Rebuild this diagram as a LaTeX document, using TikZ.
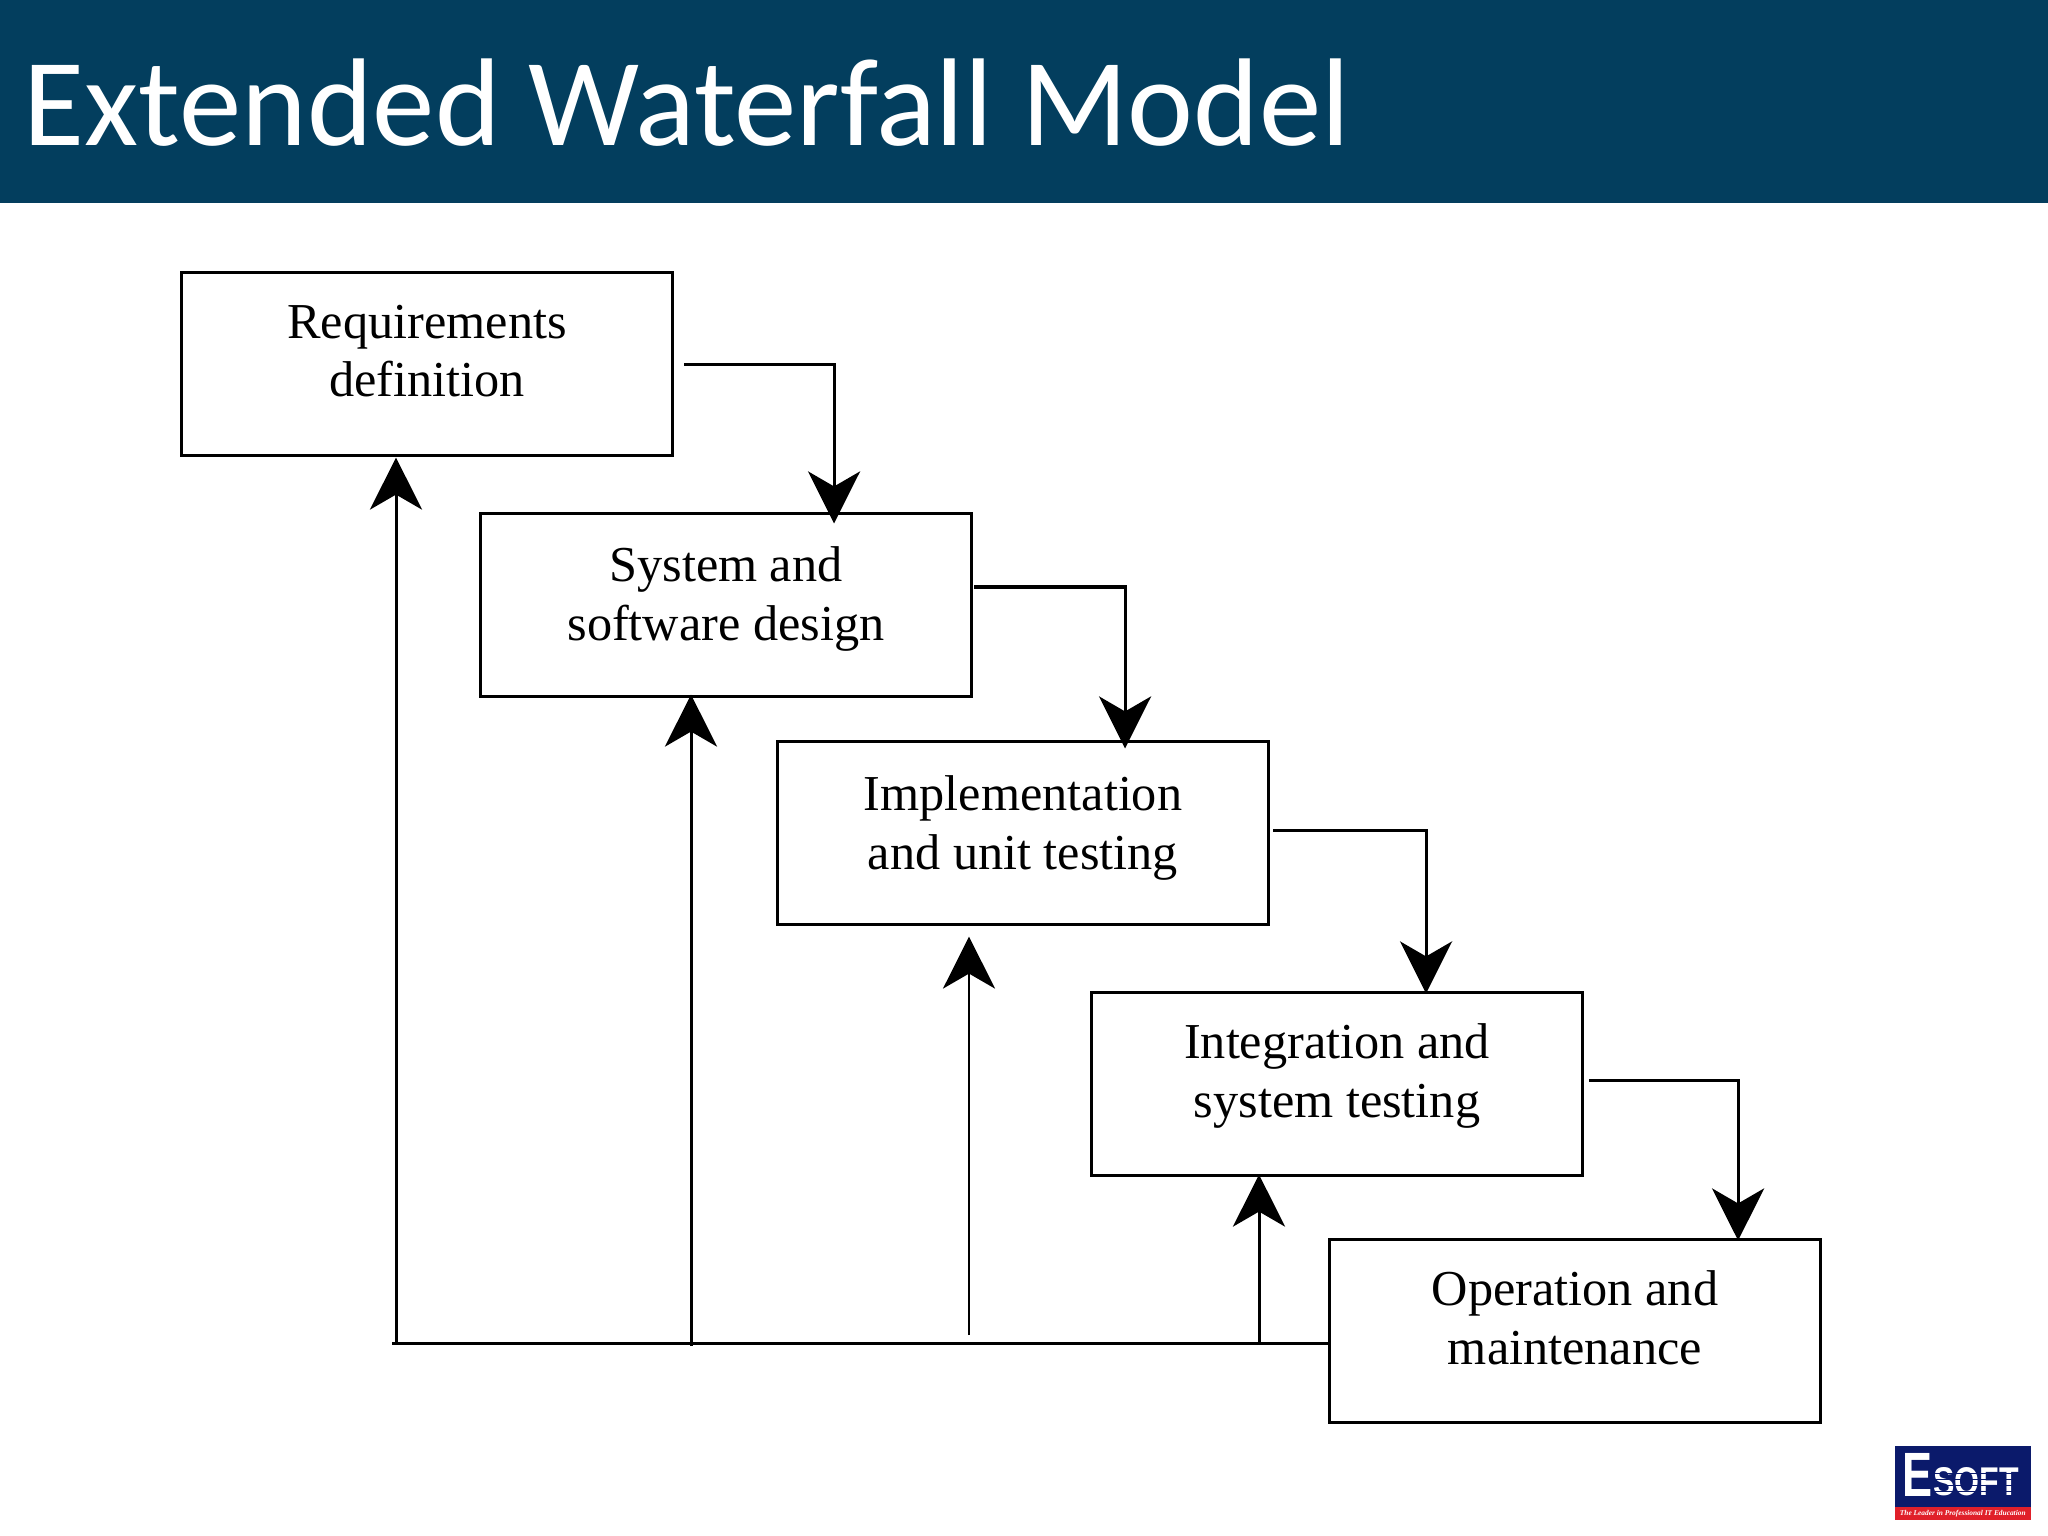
\documentclass[tikz,border=0pt]{standalone}
\usepackage{fontspec}
\setmainfont{Carlito}
\newfontfamily\boxfont{Liberation Serif}
\newfontfamily\logofont{Liberation Sans}
\usetikzlibrary{arrows.meta}

\begin{document}
\begin{tikzpicture}[
  x=0.01cm, y=-0.01cm,
  box/.style={rectangle, draw=black, line width=0.03cm, fill=white, inner sep=0pt, minimum width=4.91cm, minimum height=1.82cm},
  boxtext/.style={align=center, inner sep=0pt, font=\boxfont\fontsize{14.3}{16.7}\selectfont},
  arrow/.style={-{Stealth[length=5.2mm, width=5.2mm, inset=1.5mm]}, line width=0.03cm},
  thinarrow/.style={arrow, line width=0.022cm},
  line/.style={line width=0.03cm},
  header/.style={rectangle, fill=headerblue, inner sep=0pt, minimum width=20.6cm, minimum height=2.08cm, anchor=north west}
]
\definecolor{headerblue}{HTML}{033E5E}
\definecolor{logoblue}{HTML}{0B1A6B}
\definecolor{logored}{HTML}{E0202A}
\useasboundingbox (0,0) rectangle (2048,1536);

% Title bar
\node[header] (bar) at (-6,-6) {};
\node[anchor=west, inner sep=0pt, text=white, font=\fontsize{35.5}{42}\selectfont] (title) at (23,103) {Extended Waterfall Model};

% Boxes
\node[box] (req) at (427,364) {};
\node[box] (design) at (726,605) {};
\node[box] (impl) at (1023,833) {};
\node[box] (integ) at (1337,1084) {};
\node[box] (oper) at (1575,1331) {};

% Box texts
\node[boxtext] (reqtext) at ([yshift=.13cm]req.center) {Requirements\\definition};
\node[boxtext] (designtext) at ([yshift=.06cm]design.center) {System and\\software design};
\node[boxtext] (impltext) at ([yshift=.05cm]impl.center) {Implementation\\and unit testing};
\node[boxtext] (integtext) at ([yshift=.08cm]integ.center) {Integration and\\system testing};
\node[boxtext] (opertext) at ([yshift=.13cm]oper.center) {Operation and\\maintenance};

% Down arrows
\draw[arrow] ([xshift=.1cm]req.east) -| ([xshift=1.08cm,yshift=-.11cm]design.north);
\draw[arrow] ([xshift=.01cm,yshift=.18cm]design.east) -| ([xshift=1.02cm,yshift=-.08cm]impl.north);
\draw[arrow] ([xshift=.03cm,yshift=.03cm]impl.east) -| ([xshift=.89cm,yshift=-.02cm]integ.north);
\draw[arrow] ([xshift=.05cm,yshift=.04cm]integ.east) -| ([xshift=1.63cm,yshift=-.02cm]oper.north);

% Feedback line
\coordinate (bus) at (392,1343);
\coordinate (bus1) at (396,1343);
\coordinate (bus2) at (691,1346);
\coordinate (bus3) at (969,1335);
\coordinate (bus4) at (1259,1343);
\draw[line] (oper.west |- bus) -- (bus);

\draw[arrow] (bus1) -- ([yshift=-.01cm]bus1 |- req.south);
\draw[arrow] (bus2) -- ([yshift=.03cm]bus2 |- design.south);
\draw[thinarrow] (bus3) -- ([yshift=-.11cm]bus3 |- impl.south);
\draw[arrow] (bus4) -- ([yshift=.02cm]bus4 |- integ.south);

% Logo
\node[rectangle, fill=logoblue, inner sep=0pt, minimum width=1.36cm, minimum height=.74cm, anchor=north west] (logo) at (1894,1445) {};
\node[rectangle, fill=logored, inner sep=0pt, minimum width=1.36cm, minimum height=.13cm, anchor=south west, text=white, font=\boxfont\bfseries\itshape\fontsize{2.1}{3}\selectfont] (strip) at (logo.south west) {The Leader in Professional IT Education};
\node[anchor=south west, inner sep=0pt, text=white, xscale=.72, transform shape, font=\logofont\bfseries\fontsize{17.8}{18}\selectfont] (bigE) at (1902,1497) {E};
\node[anchor=south west, inner sep=0pt, text=white, xscale=.8, transform shape, font=\logofont\bfseries\fontsize{11.4}{12}\selectfont] (soft) at (1933,1497) {SOFT};
\foreach \y in {1473,1479,1485,1491}
  \draw[logoblue, line width=0.006cm] (1933,\y) -- (2026,\y);
\end{tikzpicture}
\end{document}
